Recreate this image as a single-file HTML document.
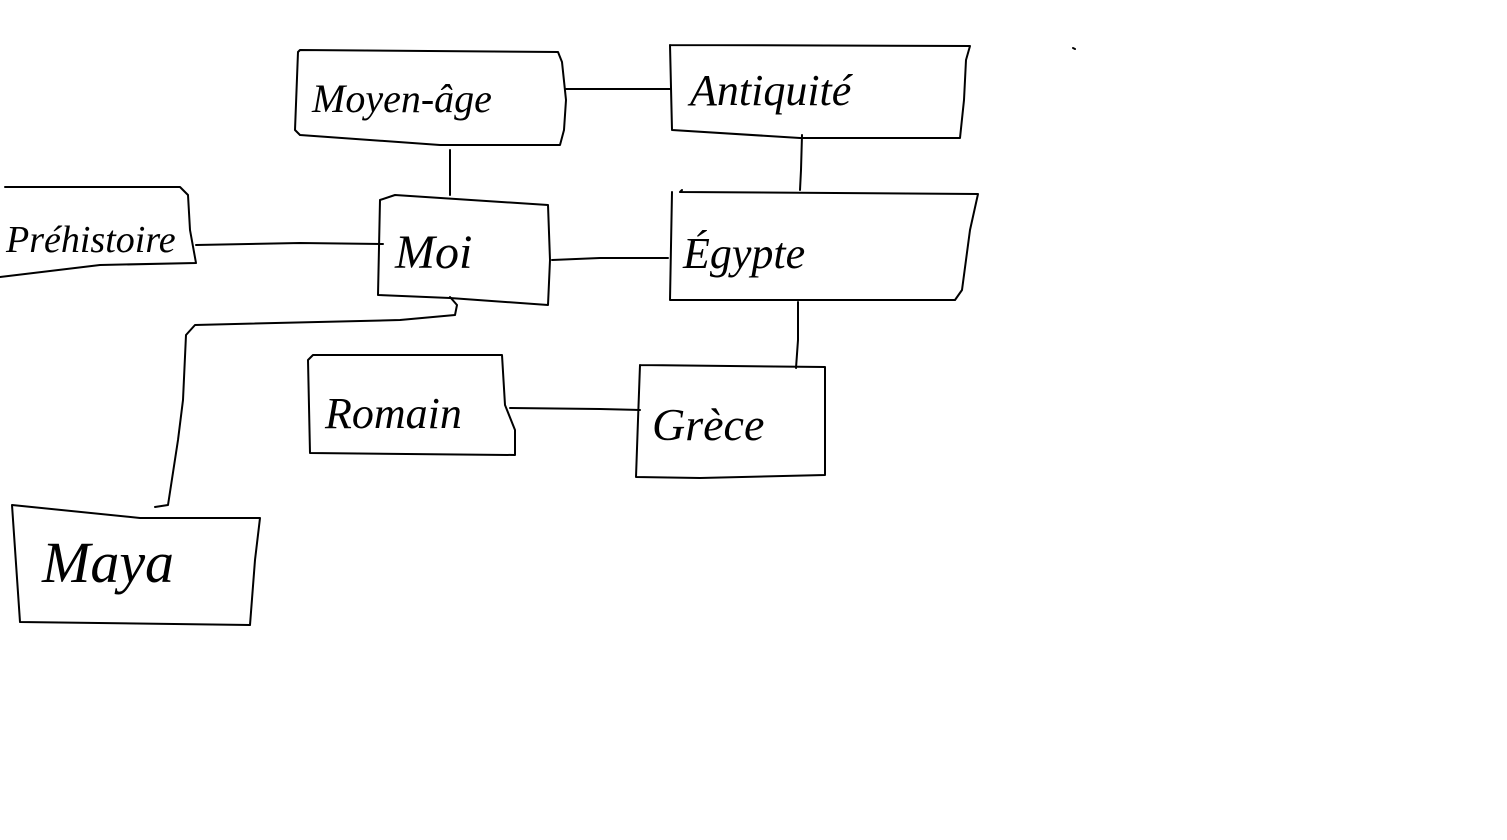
<!DOCTYPE html>
<html><head><meta charset="utf-8"><style>
html,body{margin:0;padding:0;background:#fff;}
svg{display:block}
text{font-family:"Liberation Serif",serif;font-style:italic;fill:#000}
</style></head><body>
<svg width="1507" height="840" viewBox="0 0 1507 840" xmlns="http://www.w3.org/2000/svg">
<g fill="none" stroke="#000" stroke-width="2" stroke-linejoin="round" stroke-linecap="round">
<!-- Moyen-age -->
<polyline points="298,52 300,50 558,52 562,62 566,100 564,130 560,145 440,145 300,135 295,130 298,52"/>
<!-- Antiquite -->
<polyline points="670,45 970,46 966,60 964,100 960,138 800,138 672,130 670,45"/>
<!-- Prehistoire -->
<polyline points="5,187 180,187 188,195 190,230 196,263 100,265 0,277"/>
<!-- Moi -->
<polyline points="380,200 395,195 548,205 550,260 548,305 450,298 378,295 380,200"/>
<!-- Egypte -->
<polyline points="682,190 680,192 978,194 970,230 962,290 955,300 670,300 672,192"/>
<!-- Romain -->
<polyline points="313,355 502,355 505,405 515,430 515,455 310,453 308,360 313,355"/>
<!-- Grece -->
<polyline points="640,365 825,367 825,475 700,478 636,477 638,420 640,365"/>
<!-- Maya -->
<polyline points="12,505 140,518 260,518 255,560 250,625 20,622 12,505"/>
<!-- connectors -->
<line x1="566" y1="89" x2="670" y2="89"/>
<polyline points="802,135 801,170 800,190"/>
<line x1="450" y1="150" x2="450" y2="195"/>
<polyline points="196,245 300,243 383,244"/>
<polyline points="552,260 600,258 668,258"/>
<polyline points="798,302 798,340 796,368"/>
<polyline points="510,408 600,409 640,410"/>
<polyline points="450,297 457,305 455,315 400,320 195,325 186,335 183,400 178,440 168,505 155,507"/>
<line x1="1073" y1="48" x2="1075" y2="49"/>
</g>
<text x="312" y="112" font-size="40">Moyen-âge</text>
<text x="690" y="105" font-size="44">Antiquité</text>
<text x="6" y="252" font-size="38">Préhistoire</text>
<text x="395" y="268" font-size="48">Moi</text>
<text x="683" y="268" font-size="44">Égypte</text>
<text x="325" y="428" font-size="44">Romain</text>
<text x="652" y="440" font-size="46">Grèce</text>
<text x="42" y="582" font-size="58">Maya</text>
</svg>
</body></html>
